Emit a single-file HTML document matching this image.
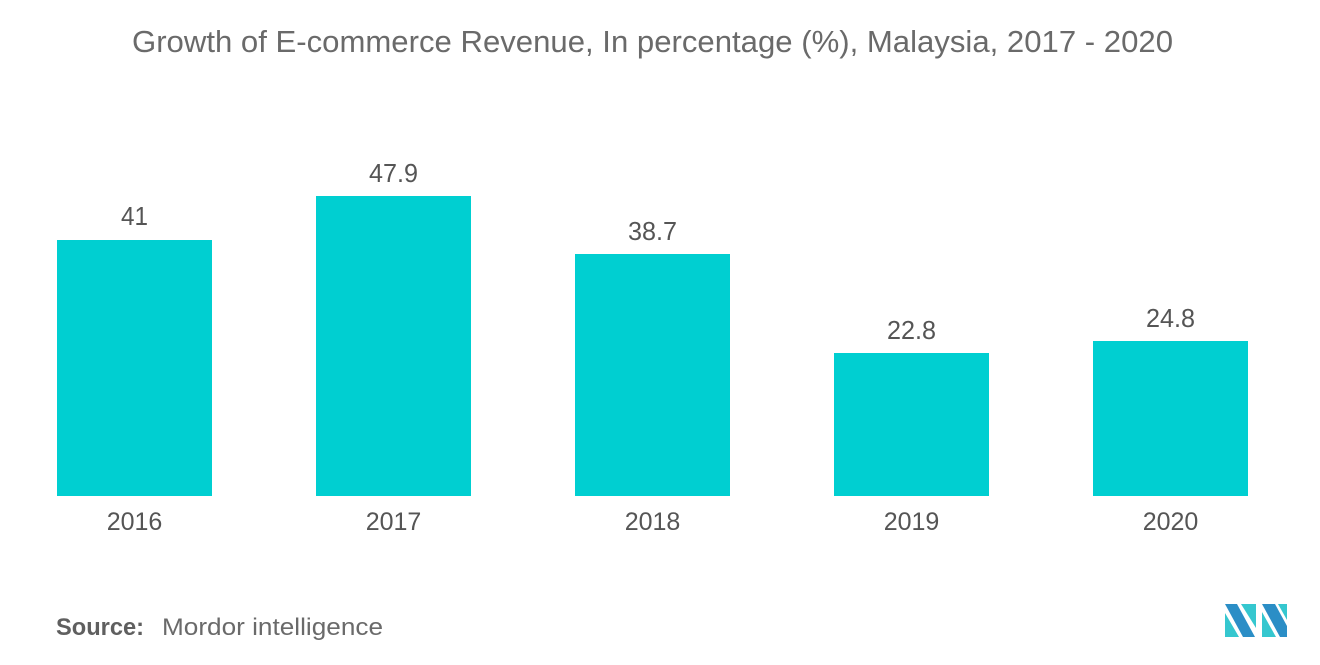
<!DOCTYPE html>
<html>
<head>
<meta charset="utf-8">
<style>
  html, body { margin: 0; padding: 0; background: #ffffff; }
  body { width: 1320px; height: 665px; overflow: hidden; }
  svg { display: block; }
  text { font-family: "Liberation Sans", "DejaVu Sans", sans-serif; }
</style>
</head>
<body>
<svg width="1320" height="665" viewBox="0 0 1320 665" xmlns="http://www.w3.org/2000/svg">
  <rect x="0" y="0" width="1320" height="665" fill="#ffffff"/>

  <!-- Title -->
  <text x="132" y="52" font-size="31" fill="#6a6a6a" textLength="1041" lengthAdjust="spacingAndGlyphs">Growth of E-commerce Revenue,  In percentage (%), Malaysia, 2017 - 2020</text>

  <!-- Bars -->
  <g fill="#00cfd1">
    <rect x="57" y="240" width="155" height="256"/>
    <rect x="316" y="196" width="155" height="300"/>
    <rect x="575" y="254" width="155" height="242"/>
    <rect x="834" y="353" width="155" height="143"/>
    <rect x="1093" y="341" width="155" height="155"/>
  </g>

  <!-- Value labels -->
  <g font-size="26" fill="#555555" text-anchor="middle">
    <text x="134.5" y="225" textLength="27" lengthAdjust="spacingAndGlyphs">41</text>
    <text x="393.5" y="182" textLength="49" lengthAdjust="spacingAndGlyphs">47.9</text>
    <text x="652.5" y="240" textLength="49" lengthAdjust="spacingAndGlyphs">38.7</text>
    <text x="911.5" y="339" textLength="49" lengthAdjust="spacingAndGlyphs">22.8</text>
    <text x="1170.5" y="327" textLength="49" lengthAdjust="spacingAndGlyphs">24.8</text>
  </g>

  <!-- Category labels -->
  <g font-size="25" fill="#555555" text-anchor="middle">
    <text x="134.5" y="530">2016</text>
    <text x="393.5" y="530">2017</text>
    <text x="652.5" y="530">2018</text>
    <text x="911.5" y="530">2019</text>
    <text x="1170.5" y="530">2020</text>
  </g>

  <!-- Source -->
  <text x="56" y="635" font-size="24" font-weight="bold" fill="#5f5f5f" textLength="88" lengthAdjust="spacingAndGlyphs">Source:</text>
  <text x="162" y="635" font-size="24" fill="#6a6a6a" textLength="221" lengthAdjust="spacingAndGlyphs">Mordor intelligence</text>

  <!-- Logo -->
  <g>
    <polygon points="1225,604 1237,604 1255,637 1243,637" fill="#2b8ec6"/>
    <polygon points="1225,613 1239,637 1225,637" fill="#35c7cf"/>
    <polygon points="1241,604 1256,604 1256,628" fill="#35c7cf"/>
    <polygon points="1262,604 1275,604 1287,626 1287,637 1280,637" fill="#2b8ec6"/>
    <polygon points="1262,612 1276,637 1262,637" fill="#35c7cf"/>
    <polygon points="1278,604 1287,604 1287,620" fill="#35c7cf"/>
  </g>
</svg>
</body>
</html>
